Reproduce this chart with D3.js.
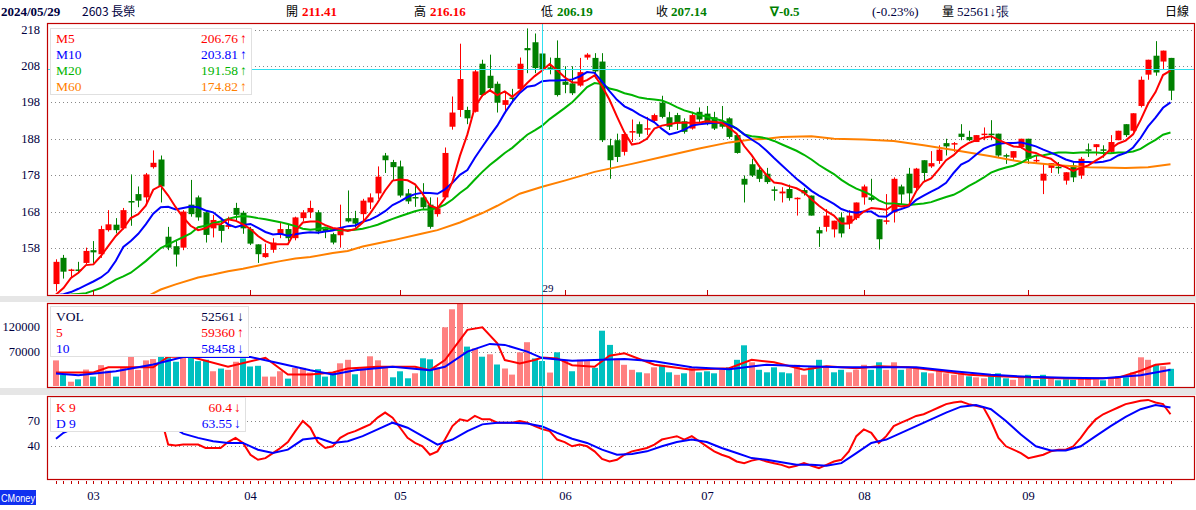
<!DOCTYPE html>
<html>
<head>
<meta charset="utf-8">
<script src="https://cdn.jsdelivr.net/npm/d3@7"></script>
<style>
  body { margin: 0; background: #fff; }
  svg { display: block; }
</style>
</head>
<body>
<svg id="chart" width="1196" height="510"></svg>
<script>
// daily candles, index 0 = 2024/02/22 ... 149 = 2024/09/30
const opens = [148.1,155.3,151.9,152.1,153.9,157.4,156.3,162.9,164.4,163.4,170.9,172.8,171.9,180.2,182.3,161.1,158.5,158.1,169.9,171.9,
  167.8,163.4,164.3,163.8,169.0,167.7,163.2,159.0,155.5,157.5,161.8,163.2,160.7,166.2,167.8,167.8,163.3,161.8,161.5,166.2,
  166.2,167.3,170.5,173.0,183.4,181.6,180.4,173.0,172.0,171.9,169.9,167.3,171.9,191.3,195.9,195.9,195.4,208.6,205.3,203.1,
  197.3,199.3,201.7,212.9,214.5,211.41,207.6,210.2,203.7,203.2,202.6,210.3,210.2,209.2,186.2,187.6,184.4,189.9,192.0,190.5,
  192.9,197.9,193.9,194.5,192.8,190.8,195.4,194.9,193.9,192.7,193.6,189.0,177.0,181.0,179.5,178.4,174.1,173.0,174.2,171.6,
  173.9,172.4,162.9,163.8,163.1,166.4,164.7,166.2,171.9,171.9,165.9,165.3,167.8,174.9,178.4,174.5,182.1,180.4,181.9,186.8,
  186.5,189.4,188.5,187.1,189.3,189.4,189.4,183.5,182.8,185.7,188.0,182.0,176.5,180.0,180.3,176.5,180.7,177.9,185.1,185.7,
  185.1,184.4,187.6,192.0,190.2,197.0,205.6,210.8,209.2,210.2];
const highs = [154.9,156.1,152.3,154.2,158.1,159.9,164.1,168.4,166.2,169.0,178.2,174.9,178.6,184.8,183.4,163.8,159.9,168.4,176.7,172.4,
  168.2,167.1,166.2,166.6,170.4,168.2,163.8,159.0,159.2,160.7,165.0,164.4,166.6,168.4,171.0,168.4,163.4,162.2,169.9,173.8,
  168.2,171.5,173.0,180.4,184.1,182.2,182.0,174.2,175.1,175.8,171.9,171.9,185.6,199.6,214.1,196.8,206.9,209.7,211.1,203.7,
  200.9,201.7,210.3,218.3,216.9,216.16,210.3,215.0,207.9,207.9,210.2,211.5,211.5,211.5,188.0,189.4,189.9,193.3,192.7,194.0,
  194.9,199.8,195.4,195.1,193.6,195.4,196.6,197.0,195.4,197.0,193.9,189.2,177.9,182.5,180.7,180.0,174.9,174.7,175.4,171.9,
  174.5,172.4,163.8,168.7,165.5,167.8,168.4,170.5,175.4,177.0,165.9,172.8,177.4,175.4,180.0,180.0,182.1,184.6,186.2,188.0,
  187.1,192.0,190.2,189.0,191.1,193.1,189.4,183.9,184.6,188.0,188.0,183.4,181.1,181.3,181.6,178.8,181.6,183.0,186.7,186.5,
  186.2,189.0,190.2,192.0,195.0,205.1,209.7,214.8,212.2,210.2];
const lows = [146.1,149.6,150.0,151.2,153.5,153.9,155.3,162.5,162.0,163.1,164.1,169.2,170.1,179.8,170.5,157.4,152.9,157.4,166.6,165.5,
  159.5,160.9,159.5,163.2,165.5,161.9,158.8,153.9,155.3,156.7,160.7,159.8,160.1,165.3,166.2,161.8,160.7,159.0,158.1,165.0,
  163.6,165.0,168.7,171.5,178.6,176.5,171.9,170.1,169.3,168.7,163.3,166.6,171.5,190.5,194.0,192.0,195.2,199.6,201.0,195.2,
  195.0,198.4,201.0,206.0,206.0,206.19,205.7,199.6,200.5,200.0,202.3,209.7,204.6,187.1,177.0,181.6,183.4,187.1,188.5,189.0,
  192.4,193.6,190.4,190.4,189.4,190.5,192.4,191.7,190.4,190.8,188.0,183.9,170.5,177.5,176.1,175.6,171.0,170.5,171.0,166.9,
  172.4,166.9,158.3,162.5,160.9,160.9,163.2,165.7,169.9,170.8,157.6,164.5,165.0,170.1,170.1,173.8,176.1,180.0,181.1,183.4,
  184.4,187.6,187.4,187.1,187.6,187.6,183.0,181.1,181.9,185.3,181.1,181.3,172.8,178.6,178.4,175.4,176.1,177.0,183.0,183.4,
  182.8,184.1,187.6,188.5,189.9,196.6,204.2,205.3,206.9,198.6];
const closes = [154.2,151.5,152.1,151.9,157.2,156.8,163.2,164.5,162.9,168.4,170.5,171.0,178.2,181.4,174.9,158.1,156.2,168.0,167.3,166.4,
  161.6,165.7,162.7,164.3,167.1,163.4,159.2,156.3,156.6,159.5,163.2,160.7,166.4,167.8,169.0,162.5,162.4,159.5,163.6,165.3,
  164.7,171.0,171.9,177.6,182.1,180.2,172.4,170.8,171.8,169.2,163.8,168.9,184.1,195.2,204.4,193.6,206.5,200.0,201.9,197.9,
  198.6,198.9,208.6,212.3,207.4,207.14,207.2,200.0,202.8,200.5,206.3,211.1,206.5,187.6,182.1,183.0,189.3,190.1,189.4,190.9,
  194.5,194.0,191.3,192.2,189.9,194.5,193.3,192.2,190.8,191.3,188.5,184.1,175.4,177.9,177.0,176.1,173.8,173.5,171.7,171.8,
  173.0,166.9,162.0,166.9,165.5,162.0,166.9,170.5,174.9,171.2,160.4,165.6,177.0,172.7,173.0,179.8,178.6,181.3,185.0,185.9,
  186.8,188.5,187.6,189.0,189.4,189.0,183.4,183.3,184.6,188.0,182.5,182.2,178.4,181.3,180.1,178.8,177.4,182.5,184.9,186.5,
  184.9,187.1,190.2,189.0,195.0,204.2,209.7,206.2,212.2,201.2];

// moving averages, one value per candle
const ma5 = [145.2,147.0,149.8,151.2,153.3,153.5,155.8,158.6,161.3,163.4,166.2,167.3,169.6,174.0,175.1,172.4,169.2,166.4,164.1,162.9,
  163.4,164.5,164.5,165.9,165.5,164.5,163.2,161.3,159.9,159.0,159.0,159.0,162.7,165.0,165.3,165.3,164.3,163.5,163.2,162.7,
  163.2,165.0,167.5,170.5,173.8,176.5,176.8,176.6,175.5,172.9,169.6,168.9,171.6,176.2,183.3,189.2,196.7,199.9,201.3,200.0,
  201.0,199.5,201.2,203.3,205.2,206.76,208.5,206.8,204.9,203.5,203.4,204.1,205.4,202.4,198.7,194.1,189.7,186.4,186.8,188.0,
  190.8,191.6,192.0,192.4,192.4,192.4,192.4,192.8,192.6,192.4,191.0,189.4,186.0,183.5,180.5,178.0,176.0,175.7,175.0,174.4,
  173.3,171.4,169.6,168.1,166.9,164.7,164.7,166.4,168.0,169.0,168.8,168.5,169.8,169.4,169.7,173.6,176.2,177.1,179.5,182.1,
  183.5,185.5,186.8,187.6,188.3,188.7,187.7,186.8,185.9,185.7,184.4,184.1,183.1,182.5,180.9,180.2,179.2,180.0,180.7,182.0,
  183.2,185.2,186.7,187.5,189.2,193.1,197.6,200.8,205.5,206.7];
const ma10 = [145.0,145.3,145.9,146.8,147.8,148.8,149.9,151.5,154.5,158.3,159.9,161.9,164.5,167.4,169.2,169.3,168.6,169.0,169.4,169.2,
  168.3,167.8,166.2,164.5,163.7,164.3,164.6,163.5,162.4,161.7,161.9,161.4,161.8,162.1,162.3,162.2,162.5,162.8,163.5,164.0,
  164.2,165.2,165.8,166.8,168.1,169.8,170.8,172.0,172.8,173.2,173.1,172.9,174.1,175.9,178.1,179.4,182.8,185.8,188.8,191.6,
  195.1,198.1,200.6,202.3,202.6,203.81,204.0,204.0,204.1,204.3,205.1,206.3,206.1,203.7,201.1,198.7,196.9,195.9,194.6,193.6,
  192.5,190.7,189.2,189.7,190.5,191.6,192.0,192.2,192.4,192.4,191.8,190.8,189.2,187.8,186.5,184.7,182.7,180.8,178.9,177.0,
  175.4,173.7,172.4,171.3,170.1,168.7,168.0,167.7,168.0,168.0,166.7,166.6,168.1,168.7,169.4,171.2,172.4,173.5,174.5,175.9,
  178.6,180.9,181.9,183.6,185.2,186.1,186.6,186.8,186.8,187.0,186.5,185.9,185.0,184.2,183.3,182.3,181.7,181.6,181.6,181.5,
  181.7,182.2,183.4,184.1,185.6,188.2,191.4,193.8,196.5,198.0];
const ma20 = [145.0,145.1,145.2,145.4,145.6,146.3,147.0,148.1,149.3,150.2,151.2,152.8,154.4,156.2,158.0,159.0,160.0,161.0,162.0,163.7,
  164.1,164.8,165.3,166.0,166.5,166.8,166.6,166.2,165.9,165.5,165.1,164.6,164.0,163.3,163.0,163.2,163.6,163.1,162.9,162.9,
  163.0,163.3,163.8,164.4,165.2,166.0,166.7,167.4,168.1,168.6,168.6,169.0,169.9,171.3,173.1,174.6,176.8,178.9,180.8,182.4,
  184.1,185.5,187.3,189.1,190.3,191.58,193.4,194.9,196.4,198.0,200.1,202.2,203.3,203.0,201.8,201.3,200.5,200.0,199.3,199.0,
  198.8,198.5,197.7,196.7,195.8,195.2,194.5,194.1,193.5,193.0,192.1,190.8,189.2,188.7,188.5,188.1,187.4,186.5,185.6,184.7,
  183.6,182.3,180.8,179.5,178.3,176.7,175.4,174.3,173.5,172.5,171.1,170.2,170.2,170.0,169.8,170.0,170.2,170.6,171.3,172.0,
  172.6,173.7,175.0,176.1,177.3,178.7,179.5,180.1,180.6,181.4,182.6,183.4,183.5,183.9,184.2,184.2,184.1,184.2,184.2,184.2,
  184.1,184.0,184.2,184.2,184.5,185.2,186.5,187.7,189.1,189.7];
// [candle index, value]
const ma60 = [[12,144.5],[14,146.6],[16,148.0],[19,149.9],[21,150.7],[23,151.6],[25,152.3],[28,153.6],[30,154.4],[32,155.1],[34,155.5],
  [37,156.6],[39,157.2],[41,158.4],[45,160.1],[49,162.0],[51,162.9],[54,165.0],[57,167.6],[59,169.6],[62,172.9],[65,174.82],
  [68,176.5],[72,178.9],[77,181.1],[81,183.0],[86,185.3],[90,187.0],[93,187.8],[95,188.0],[97,188.5],[101,188.7],[104,188.0],
  [108,187.8],[112,187.4],[116,186.2],[120,184.9],[125,183.2],[129,181.7],[134,180.7],[138,180.2],[143,180.0],[146,180.2],[149,181.0]];

const volumes = [53800,25400,11200,16000,35500,21400,44300,33500,21400,38900,61900,34900,53800,56500,61900,63200,51100,63200,60500,52400,
  55100,32100,37500,34900,51100,57800,41600,43000,21400,21400,32100,17300,38900,38900,29500,36200,21400,30000,48000,55000,
  26000,40000,62000,54000,40000,20000,32000,18000,28000,58000,56000,40000,120000,156000,169000,81400,78000,61200,66000,45600,
  37600,25400,70000,90200,57800,52561,29500,70000,54500,32100,55100,52400,38900,113200,84800,57800,45000,35000,30000,28000,
  40000,45000,30000,25000,28000,40000,30000,32000,28000,35000,40000,55000,84000,50000,35000,30000,40000,30000,28000,45000,
  25000,40000,55000,40000,30000,35000,30000,35000,45000,35000,50000,35000,50000,35000,38000,40000,30000,28000,35000,28000,
  25000,28000,22000,20000,18000,22000,28000,18000,15000,20000,25000,15000,25000,18000,14000,16000,15000,20000,18000,16000,
  14000,20000,22000,20000,30000,60000,55000,45000,42000,37000];
const volMa5 = [[0,29500],[5,29500],[7,40000],[13,40000],[15,61000],[18,61000],[23,41000],[28,59000],[31,25400],[34,25400],[37,29500],
  [39,37600],[43,41000],[48,41000],[50,34200],[52,54500],[55,115000],[57,120000],[59,88000],[60,54500],[62,47700],[64,54500],
  [65,59360],[67,57800],[69,44300],[72,41000],[74,63200],[76,68000],[80,45000],[85,35000],[90,38000],[93,55000],[96,50000],
  [100,35000],[103,42000],[107,38000],[110,42000],[114,40000],[118,33000],[122,25000],[126,22000],[130,20000],[134,18000],
  [138,17000],[142,19000],[145,33000],[147,45000],[149,48000]];
const volMa10 = [[0,27400],[3,24000],[8,32100],[13,45600],[17,60500],[26,60500],[30,47700],[34,34200],[37,25400],[40,34200],
  [45,41000],[50,34200],[52,41000],[55,71300],[58,86800],[60,84800],[63,71300],[65,58458],[69,53000],[76,56400],[80,52000],
  [85,40000],[90,36000],[95,45000],[100,42000],[105,40000],[110,40000],[115,40000],[120,32000],[125,25000],[130,21000],
  [135,19000],[140,18000],[145,24000],[149,35000]];

const kLine = [[0,58],[3,62],[6,75],[9,80],[12,88],[14,75],[15,42],[16,41],[17,42],[19,42],[20,38],[22,38],[23,45],[24,50],[25,44],
  [26,30],[27,24],[28,26],[29,32],[30,38],[31,45],[32,58],[33,70],[34,62],[35,45],[36,38],[37,40],[38,50],[39,55],[40,58],
  [41,62],[42,66],[43,74],[44,80],[45,74],[46,62],[47,50],[48,44],[49,40],[50,30],[51,34],[52,48],[53,64],[54,72],[55,70],
  [56,76],[57,72],[58,72],[59,68],[60,68],[61,68],[62,70],[63,68],[64,64],[65,60.4],[66,58],[67,48],[68,45],[69,40],[70,42],
  [71,40],[72,34],[73,25],[74,22],[75,24],[76,30],[77,34],[78,36],[79,38],[80,42],[81,48],[82,50],[83,52],[84,48],[85,52],
  [86,46],[87,40],[88,34],[89,30],[90,27],[91,22],[92,20],[93,23],[94,25],[95,22],[96,20],[97,18],[98,15],[99,17],[100,20],
  [101,17],[102,14],[103,18],[104,22],[105,24],[106,34],[107,52],[108,60],[109,56],[110,44],[111,52],[112,64],[113,68],
  [114,72],[115,76],[116,78],[117,82],[118,86],[119,90],[120,92],[121,93],[122,90],[123,88],[124,86],[125,70],[126,50],
  [127,40],[128,36],[129,32],[130,26],[131,28],[132,30],[133,34],[134,36],[135,36],[136,40],[137,50],[138,62],[139,72],
  [140,78],[141,82],[142,86],[143,90],[144,92],[145,94],[146,95],[147,92],[148,90],[149,78]];
const dLine = [[0,49],[1,56],[3,64],[6,70],[9,74],[12,78],[14,78],[15,66],[17,55],[19,50],[21,46],[23,44],[25,44],[27,36],[29,32],[31,36],
  [33,48],[35,50],[37,44],[39,46],[41,52],[43,60],[45,68],[47,62],[49,52],[51,42],[53,48],[55,58],[57,66],[59,68],[61,68],
  [63,67],[65,63.55],[67,56],[69,49],[71,44],[73,36],[75,30],[77,31],[79,34],[81,40],[83,45],[85,48],[87,45],[89,38],[91,32],
  [93,26],[95,24],[97,21],[99,18],[101,18],[103,17],[105,20],[107,32],[109,44],[111,48],[113,56],[115,64],[117,72],[119,80],
  [121,87],[123,89],[125,84],[127,70],[129,54],[131,40],[133,35],[135,35],[137,40],[139,52],[141,64],[143,75],[145,84],
  [147,89],[149,86]];

const months = [['03',5],['04',26],['05',46],['06',68],['07',87],['08',108],['09',130]];
const priceTicks = [158,168,178,188,198,208,218];
const volTicks = [70000,120000];
const kdTicks = [40,70];
const cursor = 65; // 2024/05/29

const RED = '#ff0000', GREEN = '#008000', BORDER = '#c00000';
const serif = '"Liberation Serif", "Times New Roman", serif';
const cjk = '"Noto Sans CJK TC", sans-serif';

const svg = d3.select('#chart');
const left = 47, right = 1194;
const main = {top: 23, bottom: 295};
const vol = {top: 303, bottom: 387};
const kd = {top: 396, bottom: 479};

const x = d3.scaleLinear().domain([0, 149]).range([56, 1170.5]);
const yP = d3.scaleLinear().domain([158, 218]).range([248, 29.5]);
const yV = d3.scaleLinear().domain([0, 120000]).range([387.3, 327.3]);
const yK = d3.scaleLinear().domain([40, 70]).range([446.3, 421]);

// gray separators
svg.append('rect').attr('x', 0).attr('y', 296).attr('width', 1196).attr('height', 6).attr('fill', '#e6e6e6');
svg.append('rect').attr('x', 0).attr('y', 388).attr('width', 1196).attr('height', 7).attr('fill', '#e6e6e6');

const defs = svg.append('defs');
function clip(id, p) {
  defs.append('clipPath').attr('id', id).append('rect')
    .attr('x', left + 1).attr('y', p.top + 1).attr('width', right - left - 2).attr('height', p.bottom - p.top - 2);
  return svg.append('g').attr('clip-path', `url(#${id})`);
}

function grid(p, ticks, scale) {
  for (const t of ticks) {
    const gy = Math.round(scale(t)) + 0.5;
    svg.append('line').attr('x1', left).attr('x2', right).attr('y1', gy).attr('y2', gy)
      .attr('stroke', '#888').attr('stroke-dasharray', '1,3');
    svg.append('text').attr('x', 40).attr('y', scale(t) + 4).attr('text-anchor', 'end')
      .attr('font-family', serif).attr('font-size', 12.5).attr('fill', '#000040').text(t);
  }
}
grid(main, priceTicks, yP);
grid(vol, volTicks, yV);
grid(kd, kdTicks, yK);

// candles
const gMain = clip('clipMain', main);
const idx = d3.range(closes.length);
idx.forEach(i => {
  const up = closes[i] >= opens[i];
  const col = up ? RED : GREEN;
  const cx = Math.round(x(i)) + 0.5;
  gMain.append('line').attr('x1', cx).attr('x2', cx).attr('y1', yP(highs[i])).attr('y2', yP(lows[i]))
    .attr('stroke', col).attr('stroke-width', 1);
  const top = yP(Math.max(opens[i], closes[i]));
  const h = Math.max(1.5, yP(Math.min(opens[i], closes[i])) - top);
  gMain.append('rect').attr('x', cx - 3).attr('y', top).attr('width', 6).attr('height', h).attr('fill', col);
});

const lineFull = d3.line().x((d, i) => x(i)).y(d => yP(d));
const linePairs = (sy) => d3.line().x(d => x(d[0])).y(d => sy(d[1]));
const maStyle = [[ma60, '#ff8000', true], [ma20, '#00b400'], [ma10, '#0000ff'], [ma5, '#ff0000']];
for (const [data, color, pairs] of maStyle) {
  gMain.append('path').datum(data).attr('fill', 'none').attr('stroke', color).attr('stroke-width', 2)
    .attr('d', pairs ? linePairs(yP) : lineFull);
}

// volume
const gVol = clip('clipVol', vol);
idx.forEach(i => {
  const up = i === 0 ? closes[i] >= opens[i] : closes[i] >= closes[i - 1];
  gVol.append('rect').attr('x', Math.round(x(i)) - 3).attr('y', yV(volumes[i]))
    .attr('width', 6).attr('height', yV(0) - yV(volumes[i])).attr('fill', up ? '#ff8080' : '#00c0c0');
});
gVol.append('path').datum(volMa5).attr('fill', 'none').attr('stroke', RED).attr('stroke-width', 2).attr('d', linePairs(yV));
gVol.append('path').datum(volMa10).attr('fill', 'none').attr('stroke', '#0000ff').attr('stroke-width', 2).attr('d', linePairs(yV));

// KD
const gKd = clip('clipKd', kd);
gKd.append('path').datum(kLine).attr('fill', 'none').attr('stroke', RED).attr('stroke-width', 2).attr('d', linePairs(yK));
gKd.append('path').datum(dLine).attr('fill', 'none').attr('stroke', '#0000ff').attr('stroke-width', 2).attr('d', linePairs(yK));

// crosshair
const cxc = Math.round(x(cursor)) + 0.5;
const cyc = Math.round(yP(closes[cursor])) + 0.5;
svg.append('line').attr('x1', left).attr('x2', right).attr('y1', cyc).attr('y2', cyc)
  .attr('stroke', '#30e0f0').attr('stroke-width', 1);
svg.append('line').attr('x1', cxc).attr('x2', cxc).attr('y1', main.top).attr('y2', kd.bottom)
  .attr('stroke', '#30e0f0').attr('stroke-width', 1);
svg.append('text').attr('x', cxc).attr('y', 292).attr('font-family', serif).attr('font-size', 11).attr('fill', '#000040').text('29');

// panel borders
for (const p of [main, vol, kd]) {
  svg.append('rect').attr('x', left + 0.5).attr('y', p.top + 0.5).attr('width', right - left).attr('height', p.bottom - p.top)
    .attr('fill', 'none').attr('stroke', BORDER).attr('stroke-width', 1.2);
}

// month ticks + labels
for (const [m, i] of months) {
  const mx = Math.round(x(i)) + 0.5;
  svg.append('line').attr('x1', mx).attr('x2', mx).attr('y1', main.bottom - 5).attr('y2', main.bottom).attr('stroke', BORDER);
  svg.append('text').attr('x', mx).attr('y', 500).attr('text-anchor', 'middle')
    .attr('font-family', serif).attr('font-size', 12.5).attr('fill', '#000040').text(m);
}
idx.forEach(i => {
  const mx = Math.round(x(i)) + 0.5;
  svg.append('line').attr('x1', mx).attr('x2', mx).attr('y1', kd.bottom + 2).attr('y2', kd.bottom + 5).attr('stroke', BORDER);
});

// legends
function legend(box, rows) {
  svg.append('rect').attr('x', box[0] + 0.5).attr('y', box[1] + 0.5).attr('width', box[2]).attr('height', box[3])
    .attr('fill', '#fff').attr('stroke', '#e0e0e0');
  rows.forEach(([name, val, arrow, color], k) => {
    const ty = box[1] + 15 + k * 16;
    svg.append('text').attr('x', box[0] + 6).attr('y', ty).attr('font-family', serif).attr('font-size', 13.5)
      .attr('fill', color).text(name);
    svg.append('text').attr('x', box[0] + box[2] - 13).attr('y', ty).attr('text-anchor', 'end')
      .attr('font-family', serif).attr('font-size', 13.5).attr('fill', color).text(val);
    svg.append('text').attr('x', box[0] + box[2] - 11).attr('y', ty).attr('font-family', serif).attr('font-size', 13.5)
      .attr('fill', color).text(arrow);
  });
}
legend([50, 28, 201, 66], [['M5', '206.76', '↑', RED], ['M10', '203.81', '↑', '#0000ff'],
  ['M20', '191.58', '↑', '#00b400'], ['M60', '174.82', '↑', '#ff8000']]);
legend([50, 306, 198, 50], [['VOL', '52561', '↓', '#000040'], ['5', '59360', '↑', RED], ['10', '58458', '↓', '#0000ff']]);
legend([50, 397, 195, 34], [['K 9', '60.4', '↓', RED], ['D 9', '63.55', '↓', '#0000ff']]);

// header
const head = svg.append('g').attr('font-size', 13);
const hdr = [
  [1, '2024/05/29', '#000040', 'bold', serif, 13],
  [82, '2603 長榮', '#000040', 'normal', cjk, 12],
  [286, '開', '#000', 'normal', cjk, 12], [302, '211.41', RED, 'bold', serif, 13],
  [414, '高', '#000', 'normal', cjk, 12], [430, '216.16', RED, 'bold', serif, 13],
  [541, '低', '#000', 'normal', cjk, 12], [557, '206.19', GREEN, 'bold', serif, 13],
  [656, '收', '#000', 'normal', cjk, 12], [671, '207.14', GREEN, 'bold', serif, 13],
  [770, '∇-0.5', GREEN, 'bold', serif, 13],
  [872, '(-0.23%)', '#000040', 'normal', serif, 13],
  [942, '量', '#000', 'normal', cjk, 12], [957, '52561↓張', '#000040', 'normal', serif, 13],
  [1165, '日線', '#000', 'normal', cjk, 12]
];
for (const [hx, t, c, w, f, s] of hdr) {
  head.append('text').attr('x', hx).attr('y', 16).attr('fill', c).attr('font-weight', w)
    .attr('font-family', f).attr('font-size', s).text(t);
}

// CMoney tag
svg.append('rect').attr('x', 0).attr('y', 490).attr('width', 36).attr('height', 15).attr('fill', '#1030f0');
svg.append('text').attr('x', 1).attr('y', 502).attr('font-family', '"Liberation Sans", Arial, sans-serif')
  .attr('font-size', 11).attr('textLength', 34).attr('lengthAdjust', 'spacingAndGlyphs').attr('fill', '#fff').text('CMoney');
</script>
</body>
</html>
